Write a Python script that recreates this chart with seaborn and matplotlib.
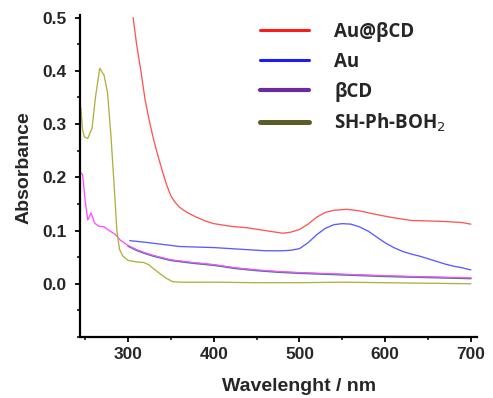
import numpy as np
import pandas as pd
import matplotlib
matplotlib.use("Agg")
import matplotlib.pyplot as plt
from matplotlib.lines import Line2D
from matplotlib.ticker import MultipleLocator
import seaborn as sns

# UV-Vis absorbance spectra (wavelength in nm)
au_cd_wl = [306, 310, 315, 320, 325, 330, 335, 340, 345, 350, 355, 360, 365, 370, 380, 390,
            400, 420, 440, 460, 480, 490, 500, 510, 520, 530, 540, 555, 570, 590, 610, 630,
            650, 670, 690, 700]
au_cd_abs = [0.50, 0.45, 0.40, 0.345, 0.305, 0.27, 0.24, 0.212, 0.186, 0.165, 0.153, 0.144,
             0.138, 0.133, 0.125, 0.118, 0.113, 0.108, 0.105, 0.100, 0.095, 0.097, 0.102,
             0.112, 0.125, 0.134, 0.138, 0.140, 0.137, 0.130, 0.124, 0.119, 0.118, 0.117,
             0.115, 0.112]

au_wl = [302, 320, 340, 360, 380, 400, 420, 440, 460, 480, 490, 500, 510, 520, 530, 540,
         550, 560, 570, 580, 590, 600, 610, 620, 630, 640, 650, 660, 670, 680, 690, 700]
au_abs = [0.081, 0.078, 0.074, 0.070, 0.069, 0.068, 0.066, 0.064, 0.062, 0.062, 0.063,
          0.066, 0.077, 0.092, 0.104, 0.111, 0.113, 0.112, 0.107, 0.099, 0.088, 0.077,
          0.068, 0.061, 0.056, 0.052, 0.047, 0.042, 0.037, 0.033, 0.030, 0.026]

cd_wl = [300, 310, 320, 330, 340, 350, 375, 400, 425, 450, 475, 500, 550, 600, 650, 700]
cd_abs = [0.071, 0.063, 0.057, 0.052, 0.048, 0.044, 0.039, 0.035, 0.029, 0.025, 0.022,
          0.020, 0.017, 0.014, 0.012, 0.010]

blank_wl = [245, 247, 250, 253, 257, 261, 266, 272, 278, 285, 291, 300, 310, 320, 330,
            340, 350, 375, 400, 425, 450, 475, 500, 550, 600, 650, 700]
blank_abs = [0.208, 0.205, 0.157, 0.120, 0.133, 0.114, 0.108, 0.107, 0.100, 0.093, 0.082,
             0.072, 0.064, 0.058, 0.053, 0.049, 0.045, 0.040, 0.036, 0.030, 0.026, 0.023,
             0.021, 0.018, 0.015, 0.013, 0.011]

shph_wl = [245, 247, 249, 253, 258, 262, 267, 272, 276, 280, 284, 287, 290, 294, 300, 310,
           318, 324, 330, 338, 345, 352, 360, 400, 450, 500, 550, 600, 650, 700]
shph_abs = [0.330, 0.290, 0.276, 0.273, 0.292, 0.350, 0.405, 0.392, 0.360, 0.280, 0.180,
            0.100, 0.065, 0.052, 0.044, 0.041, 0.040, 0.036, 0.028, 0.018, 0.010, 0.004,
            0.003, 0.003, 0.002, 0.002, 0.003, 0.002, 0.001, 0.000]

labels = ["Au@\u03b2CD", "Au", "\u03b2CD", "SH-Ph-BOH$_2$"]
legend_colors = ["#ff1a1a", "#1a1aff", "#6a2aa0", "#5c5c28"]
legend_widths = [2.2, 2.2, 3.0, 3.6]

sns.set_theme(style="ticks")
plt.rcParams["font.family"] = ["Liberation Sans", "DejaVu Sans"]

fig = plt.figure(figsize=(4.93, 3.98), dpi=100)
ax = fig.add_axes([0.1623, 0.1533, 0.805, 0.809])

def df(wl, ab):
    return pd.DataFrame({"wl": wl, "abs": ab})

lw = 0.95
sns.lineplot(data=df(cd_wl, cd_abs), x="wl", y="abs", ax=ax, color="#2a7a8a", lw=1.3)
sns.lineplot(data=df(blank_wl, blank_abs), x="wl", y="abs", ax=ax, color="#ff4dff", lw=lw)
sns.lineplot(data=df(shph_wl, shph_abs), x="wl", y="abs", ax=ax, color="#b0b040", lw=lw)
sns.lineplot(data=df(au_wl, au_abs), x="wl", y="abs", ax=ax, color="#5a5aff", lw=lw)
sns.lineplot(data=df(au_cd_wl, au_cd_abs), x="wl", y="abs", ax=ax, color="#ff5555", lw=lw)

ax.set_xlim(244, 707)
ax.set_ylim(-0.1, 0.505)
ax.xaxis.set_major_locator(MultipleLocator(100))
ax.xaxis.set_minor_locator(MultipleLocator(50))
ax.yaxis.set_major_locator(MultipleLocator(0.1))
ax.yaxis.set_minor_locator(MultipleLocator(0.05))
ax.set_xticks([300, 400, 500, 600, 700])
ax.set_yticks([0.0, 0.1, 0.2, 0.3, 0.4, 0.5])
ax.set_yticklabels(["0.0", "0.1", "0.2", "0.3", "0.4", "0.5"])

sns.despine(ax=ax)
for s in ("left", "bottom"):
    ax.spines[s].set_linewidth(1.6)
    ax.spines[s].set_color("black")
ax.tick_params(which="major", direction="out", length=3.4, width=1.3, color="black",
               labelsize=12.5)
ax.tick_params(axis="y", which="major", pad=6)
ax.tick_params(axis="x", which="major", pad=4)
ax.tick_params(which="minor", direction="out", length=2, width=1.1, color="black")
for t in ax.get_xticklabels() + ax.get_yticklabels():
    t.set_fontweight("bold")

ax.set_xlabel("Wavelenght / nm", fontsize=14, fontweight="bold", va="center")
ax.set_ylabel("Absorbance", fontsize=14, fontweight="bold", va="center")
ax.xaxis.set_label_coords(0.552, -0.155)
ax.yaxis.set_label_coords(-0.14, 0.525)

handles = [Line2D([0], [0], color=c, lw=w) for c, w in zip(legend_colors, legend_widths)]
leg = ax.legend(handles, labels, loc="upper left", bbox_to_anchor=(260 / 493, 1 - 22 / 398),
                bbox_transform=fig.transFigure, borderaxespad=0, borderpad=0,
                frameon=False, handlelength=2.6, handletextpad=1.35,
                labelspacing=0.52, prop={"family": ["Open Sans", "DejaVu Sans"],
                                         "weight": "bold", "size": 13.5})

fig.savefig("out.png", dpi=100)
